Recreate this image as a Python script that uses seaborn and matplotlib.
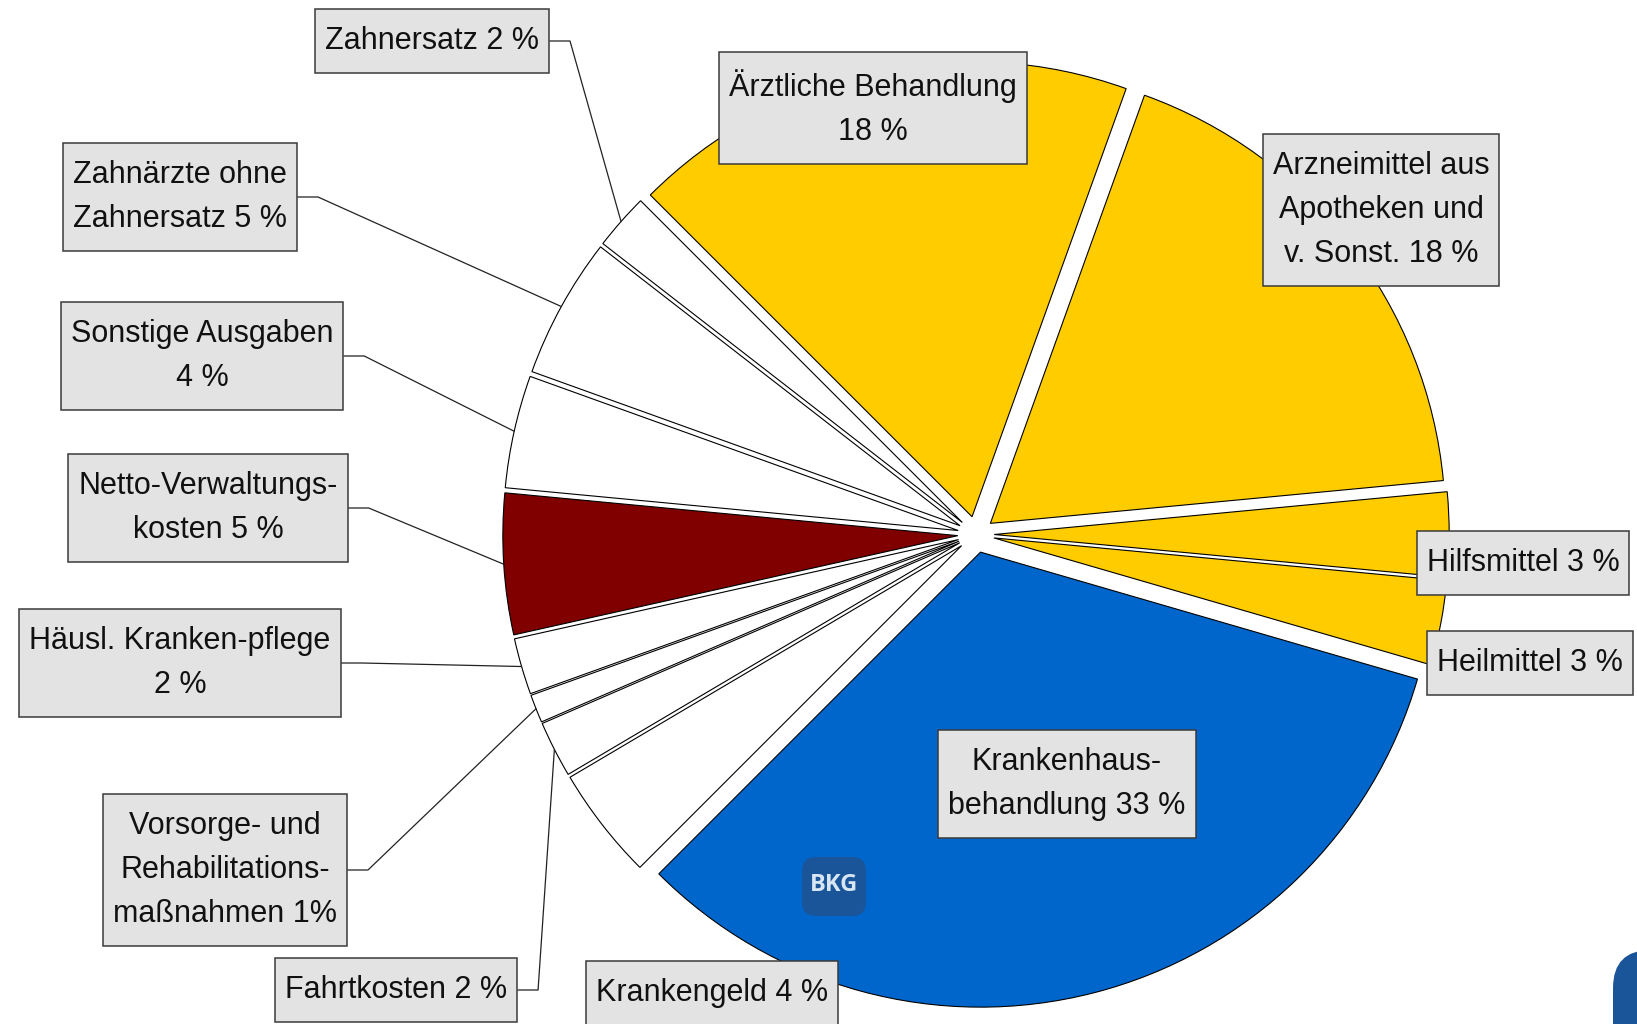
import numpy as np
import pandas as pd
import seaborn as sns
import matplotlib.pyplot as plt
from matplotlib.patches import FancyBboxPatch
from matplotlib.path import Path
from matplotlib.transforms import IdentityTransform

# shares of GKV spending, clockwise from the top
labels = ["Ärztliche Behandlung\n18 %",
          "Arzneimittel aus\nApotheken und\nv. Sonst. 18 %",
          "Hilfsmittel 3 %",
          "Heilmittel 3 %",
          "Krankenhaus-\nbehandlung 33 %",
          "Krankengeld 4 %",
          "Fahrtkosten 2 %",
          "Vorsorge- und\nRehabilitations-\nmaßnahmen 1%",
          "Häusl. Kranken-pflege\n2 %",
          "Netto-Verwaltungs-\nkosten 5 %",
          "Sonstige Ausgaben\n4 %",
          "Zahnärzte ohne\nZahnersatz 5 %",
          "Zahnersatz 2 %"]
shares = [18, 18, 3, 3, 33, 4, 2, 1, 2, 5, 4, 5, 2]

df = pd.DataFrame({"label": labels, "share": shares})

yellow, blue, red = "#FFCC00", "#0066CC", "#800000"
colors = [yellow, yellow, yellow, yellow, blue, "white", "white", "white",
          "white", red, "white", "white", "white"]

# label box centres in pixels (x from left, y from top) and leader flag
box_pos = [(873, 108), (1381, 210), (1523, 563), (1530, 663), (1067, 784),
           (712, 993), (396, 990), (225, 870), (180, 663), (208, 508),
           (202, 356), (180, 197), (432, 41)]
leader = [False, False, False, False, False, False,
          True, True, True, True, True, True, True]


def label_box(x0, y0, width, height, mutation_size):
    # wider pad top/bottom than left/right, like the original boxes
    px, py = 0.33 * mutation_size, 0.55 * mutation_size
    x0, y0 = x0 - px, y0 - py
    x1, y1 = x0 + width + 2 * px, y0 + height + 2 * py
    return Path([(x0, y0), (x1, y0), (x1, y1), (x0, y1), (x0, y0)], closed=True)


sns.set_theme(style="white")
plt.rcParams['font.family'] = ['Liberation Sans', 'DejaVu Sans']

W, H = 1637, 1024
fig = plt.figure(figsize=(W / 100, H / 100), dpi=100)
ax = fig.add_axes([0, 0, 1, 1])

cx, cy, R = 976, 534.5, 455.0

wedges, _ = ax.pie(df["share"], colors=colors, startangle=135, counterclock=False,
                   explode=[0.04] * len(df), radius=1.0,
                   wedgeprops=dict(edgecolor="black", linewidth=0.8))
ax.set_xlim(-cx / R, (W - cx) / R)
ax.set_ylim(-(H - cy) / R, cy / R)
ax.set_aspect('equal')
ax.axis('off')

box = dict(boxstyle=label_box, facecolor="#E3E3E3",
           edgecolor="#3A3A3A", linewidth=1.1)

for w, lab, (bx, by), lead in zip(wedges, df["label"], box_pos, leader):
    mid = np.deg2rad((w.theta1 + w.theta2) / 2)
    tip = (w.center[0] + w.r * np.cos(mid), w.center[1] + w.r * np.sin(mid))
    kw = {}
    if lead:
        kw["arrowprops"] = dict(arrowstyle="-", color="#222222", lw=0.9,
                                shrinkA=0, shrinkB=0, relpos=(1, 0.5),
                                connectionstyle="arc,angleA=0,armA=31,angleB=0,armB=0,rad=0")
    ax.annotate(lab, xy=tip, xycoords="data", xytext=(bx, H - by),
                textcoords="figure pixels", ha="center", va="center",
                multialignment="center", fontsize=22, color="#111111",
                linespacing=1.63, bbox=box, zorder=5, **kw)

# BKG logo patches
ax.add_patch(FancyBboxPatch((802, H - 916), 64, 59, boxstyle="round,pad=0,rounding_size=14",
                            facecolor="#1A5599", edgecolor="none",
                            transform=IdentityTransform(), zorder=6))
ax.text(834, H - 885, "BKG", transform=IdentityTransform(), ha="center", va="center",
        fontsize=17, fontweight="bold", color="#D8E6F3", family="Open Sans", zorder=7)
ax.add_patch(FancyBboxPatch((1613, -40), 80, 114, boxstyle="round,pad=0,rounding_size=38",
                            facecolor="#1A5599", edgecolor="none",
                            transform=IdentityTransform(), zorder=6))

fig.savefig("out.png", dpi=100)
